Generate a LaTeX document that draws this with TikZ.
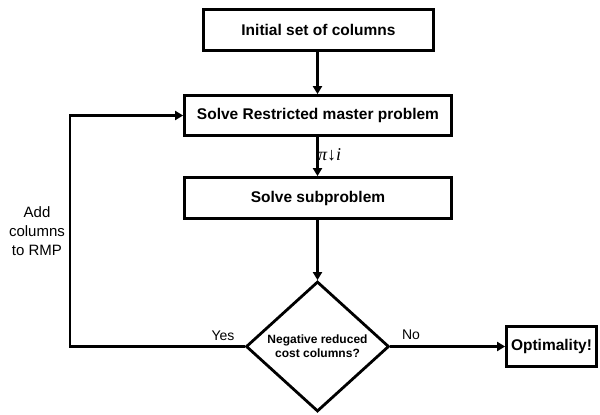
\documentclass[tikz,border=0pt]{standalone}
\usepackage{fontspec}
\setmainfont{Liberation Sans}
\newfontfamily\serifit{Liberation Serif}
\usetikzlibrary{shapes.geometric,arrows.meta}
\tikzset{
  procbox/.style={draw, line width=2.8pt, inner sep=0pt, font=\fontsize{15.5}{18}\selectfont\bfseries},
  decision/.style={draw, diamond, aspect=1.1, line width=2.8pt, inner sep=0pt, minimum width=143pt, minimum height=130pt, align=center, font=\fontsize{12}{14}\selectfont\bfseries},
  conn/.style={line width=2.8pt, -{Triangle[length=8pt,width=9pt]}},
  lbl/.style={font=\fontsize{14}{17}\selectfont, inner sep=0pt}
}
\begin{document}
\begin{tikzpicture}[x=1pt,y=-1pt]
\useasboundingbox (0,0) rectangle (600,415);
\node[procbox, minimum width=230pt, minimum height=41pt] (init) at (318.5,30) {Initial set of columns};
\node[procbox, minimum width=267pt, minimum height=40pt] (rmp) at (318,115.5) {Solve Restricted master problem};
\node[procbox, minimum width=267pt, minimum height=41pt] (sub) at (318,198) {Solve subproblem};
\node[decision] (dia) at (317.5,346.5) {Negative reduced\\cost columns?};
\node[procbox, minimum width=90pt, minimum height=40pt] (opt) at (551.5,346.5) {Optimality!};
\coordinate (lc) at (70,346.5);
\draw[conn] (init.south -| dia.north) -- (rmp.north -| dia.north);
\draw[conn] (rmp.south -| dia.north) -- (sub.north -| dia.north);
\draw[conn] (sub.south -| dia.north) -- (dia.north);
\draw[conn] (dia.west) -- (lc) |- (rmp.west);
\draw[conn] (dia.east) -- (opt.west);
\node[anchor=west, inner sep=0pt, font=\serifit\itshape\fontsize{18}{20}\selectfont] (pi) at (318,155) {π↓i};
\node[lbl] (yes) at (223,336) {Yes};
\node[lbl] (no) at (411,335) {No};
\node[align=center, inner sep=0pt, font=\fontsize{15}{19}\selectfont] (add) at (37,231) {Add\\columns\\to RMP};
\end{tikzpicture}
\end{document}
